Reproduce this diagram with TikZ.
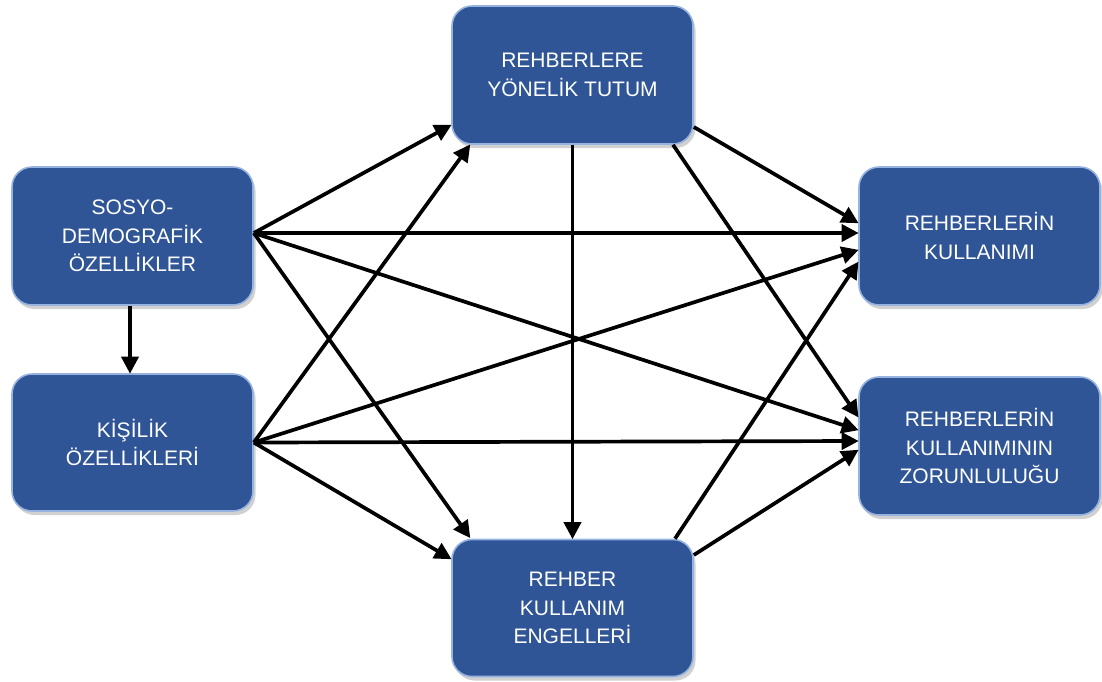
\documentclass[tikz,border=0pt]{standalone}
\usepackage{fontspec}
\setmainfont{Liberation Sans}
\usetikzlibrary{arrows.meta,shadows}
\definecolor{boxfill}{RGB}{47,85,151}
\definecolor{boxline}{RGB}{150,178,222}
\tikzset{
  box/.style={rectangle, rounded corners=20pt, fill=boxfill, draw=boxline, line width=1.6pt,
    minimum width=241pt, minimum height=138pt, text=white, align=center,
    font=\fontsize{21}{28.5}\selectfont, inner sep=0pt,
    drop shadow={shadow xshift=2.5pt, shadow yshift=-4pt, opacity=0.3, fill=black!60}},
  conn/.style={line width=3.7pt, black, -{Triangle[length=17pt,width=17pt]}, shorten >=-0.5pt}
}
\begin{document}
\begin{tikzpicture}[x=1pt,y=-1pt]
\useasboundingbox (0,0) rectangle (1102,681);
\node[box] (sd) at (132.5,236) {SOSYO-\\DEMOGRAF\.IK\\ÖZELL\.IKLER};
\node[box, minimum height=137pt] (kp) at (132.5,442.5) {K\.I\c{S}\.IL\.IK\\ÖZELL\.IKLER\.I};
\node[box] (ty) at (572.5,75) {REHBERLERE\\YÖNEL\.IK TUTUM};
\node[box, minimum height=137pt] (en) at (572.5,608) {REHBER\\KULLANIM\\ENGELLER\.I};
\node[box] (ku) at (979.5,236) {REHBERLER\.IN\\KULLANIMI};
\node[box] (zo) at (979.5,446) {REHBERLER\.IN\\KULLANIMININ\\ZORUNLULU\u{G}U};

% from SOSYO-DEMOGRAFIK
\draw[conn] ([yshift=3pt]sd.east) -- ([yshift=-50pt]ty.west);
\draw[conn] ([yshift=3pt]sd.east) -- ([yshift=3pt]ku.west);
\draw[conn] ([yshift=3pt]sd.east) -- ([yshift=16pt]zo.west);
\draw[conn] ([yshift=3pt]sd.east) -- ([xshift=-102.5pt,yshift=1pt]en.north);
\draw[conn] ([xshift=-2.5pt]sd.south) -- ([xshift=-2.5pt]kp.north);
% from KISILIK
\draw[conn] (kp.east) -- ([xshift=-102.5pt]ty.south);
\draw[conn] (kp.east) -- ([yshift=-14pt]ku.west);
\draw[conn] (kp.east) -- ([yshift=5pt]zo.west);
\draw[conn] (kp.east) -- ([yshift=49pt]en.west);
% from TUTUM
\draw[conn] (ty.south) -- (en.north);
\draw[conn] ([yshift=-52pt]ty.east) -- ([yshift=13pt]ku.west);
\draw[conn] ([xshift=100.5pt]ty.south) -- ([yshift=29pt]zo.west);
% from ENGELLERI
\draw[conn] ([xshift=102.5pt]en.north) -- ([yshift=-26pt]ku.west);
\draw[conn] ([yshift=53pt]en.east) -- ([yshift=-4pt]zo.west);
\end{tikzpicture}
\end{document}
